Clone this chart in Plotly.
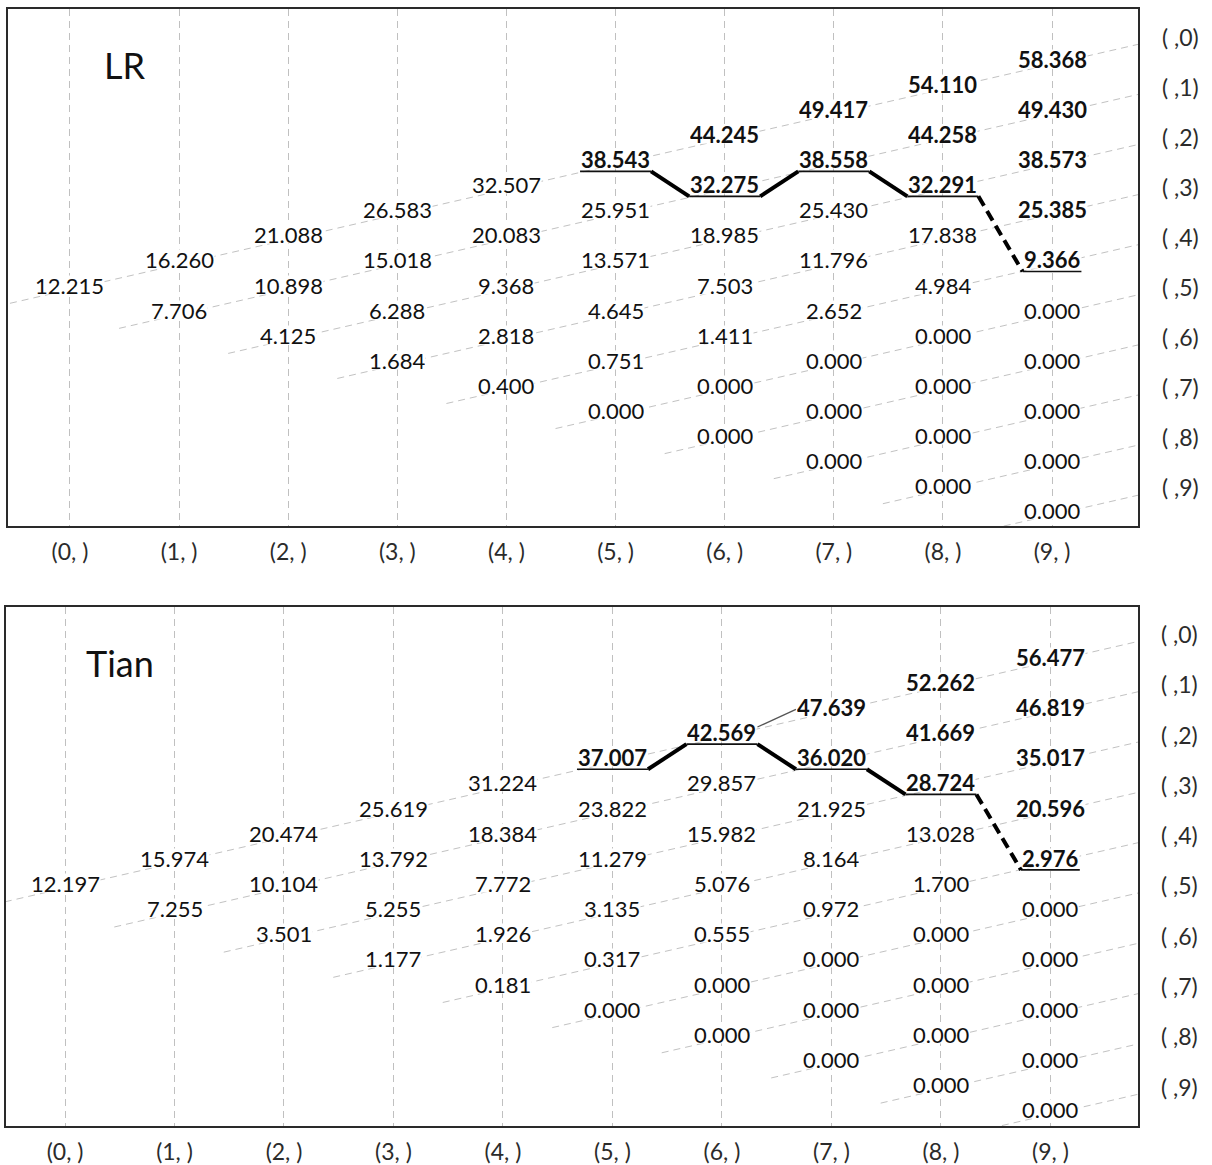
import plotly.graph_objects as go

# ---------------- data ----------------
COLUMNS = list(range(10))
X_TICK_LABELS = [f"({i}, )" for i in COLUMNS]
ROW_LABELS = [f"( ,{j})" for j in range(10)]

LR_VALUES = [
    [12.215],
    [16.260, 7.706],
    [21.088, 10.898, 4.125],
    [26.583, 15.018, 6.288, 1.684],
    [32.507, 20.083, 9.368, 2.818, 0.400],
    [38.543, 25.951, 13.571, 4.645, 0.751, 0.000],
    [44.245, 32.275, 18.985, 7.503, 1.411, 0.000, 0.000],
    [49.417, 38.558, 25.430, 11.796, 2.652, 0.000, 0.000, 0.000],
    [54.110, 44.258, 32.291, 17.838, 4.984, 0.000, 0.000, 0.000, 0.000],
    [58.368, 49.430, 38.573, 25.385, 9.366, 0.000, 0.000, 0.000, 0.000, 0.000],
]
TIAN_VALUES = [
    [12.197],
    [15.974, 7.255],
    [20.474, 10.104, 3.501],
    [25.619, 13.792, 5.255, 1.177],
    [31.224, 18.384, 7.772, 1.926, 0.181],
    [37.007, 23.822, 11.279, 3.135, 0.317, 0.000],
    [42.569, 29.857, 15.982, 5.076, 0.555, 0.000, 0.000],
    [47.639, 36.020, 21.925, 8.164, 0.972, 0.000, 0.000, 0.000],
    [52.262, 41.669, 28.724, 13.028, 1.700, 0.000, 0.000, 0.000, 0.000],
    [56.477, 46.819, 35.017, 20.596, 2.976, 0.000, 0.000, 0.000, 0.000, 0.000],
]
# exercise boundary (column, row) of each panel
BOUNDARY_COLS = [5, 6, 7, 8, 9]
LR_BOUNDARY_ROWS = [0, 1, 1, 2, 4]
TIAN_BOUNDARY_ROWS = [0, 0, 1, 2, 4]
TIAN_THIN_LINK = [(6, 0), (7, 0)]

# ---------------- style ----------------
W, H = 1212, 1165
FONT = "Lato"
NUM_SIZE = 22
TEXT_COLOR = "#111111"
ROW_OFF = 0.2      # row guide line sits slightly below text centre
UL_OFF = 0.48      # underline below text centre
ROW_START = 0.55

panels = [
    dict(name="LR", values=LR_VALUES, brows=LR_BOUNDARY_ROWS, thin=None,
         xdom=(8 / W, 1138 / W), ydom=(1 - 526 / H, 1 - 9 / H),
         xr=(-0.568, 9.788), yr=(-9.64, 11.0)),
    dict(name="Tian", values=TIAN_VALUES, brows=TIAN_BOUNDARY_ROWS, thin=TIAN_THIN_LINK,
         xdom=(6 / W, 1138 / W), ydom=(1 - 1126 / H, 1 - 607 / H),
         xr=(-0.539, 9.80), yr=(-9.66, 10.97)),
]

fig = go.Figure()
annotations = []


def level(x, j):
    return x - 2 * j


for k, p in enumerate(panels):
    sfx = "" if k == 0 else str(k + 1)
    xa, ya = "x" + sfx, "y" + sfx
    px_per_x = (p["xdom"][1] - p["xdom"][0]) * W / (p["xr"][1] - p["xr"][0])

    def half_w(txt):
        nd = sum(c.isdigit() for c in txt)
        return ((nd * 12.2 + 6) / 2 + 2) / px_per_x

    def to_paper_x(xv):
        return p["xdom"][0] + (xv - p["xr"][0]) / (p["xr"][1] - p["xr"][0]) * (p["xdom"][1] - p["xdom"][0])

    # row guide lines
    for j in range(10):
        x0, x1 = j - ROW_START, 10.6
        fig.add_trace(go.Scatter(
            x=[x0, x1], y=[level(x0, j) - ROW_OFF, level(x1, j) - ROW_OFF],
            mode="lines", line=dict(color="#c2c2c2", width=1, dash="7px,5px"),
            hoverinfo="skip", showlegend=False, xaxis=xa, yaxis=ya))
        lx = 10.18
        annotations.append(dict(
            x=to_paper_x(lx), xref="paper", y=level(lx, j) - ROW_OFF - 0.08, yref=ya,
            text=ROW_LABELS[j], showarrow=False, xanchor="center", yanchor="middle",
            font=dict(family=FONT, size=23, color="#2b2b2b")))

    bset = dict(zip(BOUNDARY_COLS, p["brows"]))
    # node values
    for i, col in enumerate(p["values"]):
        for j, v in enumerate(col):
            txt = f"{v:.3f}"
            bold = i in bset and j <= bset[i]
            annotations.append(dict(
                x=i, y=level(i, j), xref=xa, yref=ya,
                text=f"<b>{txt}</b>" if bold else txt,
                showarrow=False, xanchor="center", yanchor="middle",
                bgcolor="white", height=18, borderpad=0,
                font=dict(family=FONT, size=NUM_SIZE, color=TEXT_COLOR)))

    # underlines and boundary connectors
    nodes = []
    for i, j in zip(BOUNDARY_COLS, p["brows"]):
        hw = half_w(f"{p['values'][i][j]:.3f}")
        nodes.append((i, level(i, j) - UL_OFF, hw))
    ux, uy = [], []
    for i, yl, hw in nodes:
        ux += [i - hw, i + hw, None]
        uy += [yl, yl, None]
    fig.add_trace(go.Scatter(x=ux, y=uy, mode="lines", line=dict(color="#111111", width=1.7),
                             hoverinfo="skip", showlegend=False, xaxis=xa, yaxis=ya))
    sx, sy = [], []
    for a, b in zip(nodes[:-2], nodes[1:-1]):
        sx += [a[0] + a[2], b[0] - b[2], None]
        sy += [a[1], b[1], None]
    fig.add_trace(go.Scatter(x=sx, y=sy, mode="lines", line=dict(color="#000000", width=4),
                             hoverinfo="skip", showlegend=False, xaxis=xa, yaxis=ya))
    a, b = nodes[-2], nodes[-1]
    fig.add_trace(go.Scatter(x=[a[0] + a[2], b[0] - b[2]], y=[a[1], b[1]], mode="lines",
                             line=dict(color="#000000", width=4, dash="11px,6px"),
                             hoverinfo="skip", showlegend=False, xaxis=xa, yaxis=ya))
    if p["thin"]:
        (i0, j0), (i1, j1) = p["thin"]
        h0 = half_w(f"{p['values'][i0][j0]:.3f}")
        h1 = half_w(f"{p['values'][i1][j1]:.3f}")
        fig.add_trace(go.Scatter(x=[i0 + h0, i1 - h1], y=[level(i0, j0) + 0.2, level(i1, j1) - 0.1],
                                 mode="lines", line=dict(color="#555555", width=1.3),
                                 hoverinfo="skip", showlegend=False, xaxis=xa, yaxis=ya))

    # panel title
    annotations.append(dict(x=0.5, y=8.75, xref=xa, yref=ya, text=p["name"], showarrow=False,
                            xanchor="center", yanchor="middle",
                            font=dict(family=FONT, size=36, color="#111111")))

    axis_common = dict(showline=True, mirror=True, linecolor="#2a2a2a", linewidth=1.6,
                       zeroline=False, fixedrange=True)
    fig.update_layout(**{
        "xaxis" + sfx: dict(domain=list(p["xdom"]), range=list(p["xr"]), anchor=ya,
                            tickvals=COLUMNS, ticktext=X_TICK_LABELS, ticks="",
                            showgrid=True, gridcolor="#c0c0c0", gridwidth=1, griddash="7px,5px",
                            ticklabelstandoff=5,
                            tickfont=dict(family=FONT, size=23, color="#2b2b2b"), **axis_common),
        "yaxis" + sfx: dict(domain=list(p["ydom"]), range=list(p["yr"]), anchor=xa,
                            showgrid=False, showticklabels=False, ticks="", **axis_common),
    })

fig.update_layout(width=W, height=H, autosize=False,
                  margin=dict(l=0, r=0, t=0, b=0),
                  paper_bgcolor="white", plot_bgcolor="white",
                  annotations=annotations, showlegend=False)

fig.write_html("out.html")
